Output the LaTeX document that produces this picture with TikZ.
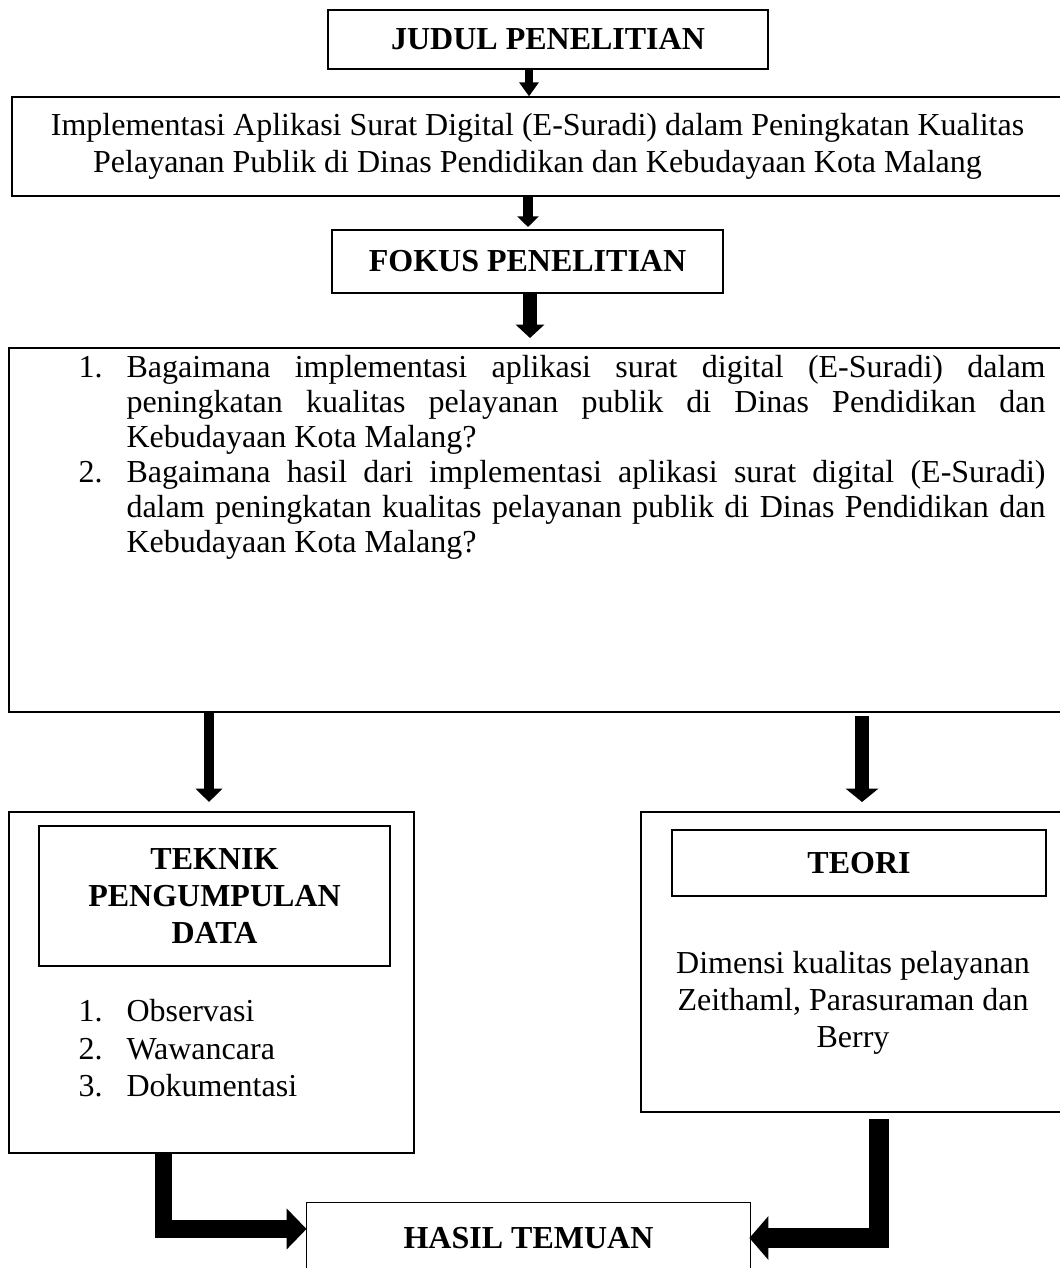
\documentclass[tikz,border=0pt]{standalone}
\usepackage{fontspec}
\setmainfont{Liberation Serif}
\usetikzlibrary{arrows.meta}
\def\px{0.375pt}
\newcommand{\nomor}[1]{\makebox[18pt][l]{#1}}
\newcommand{\baris}[1]{\makebox[344.6pt][s]{#1}}

\begin{document}
\begin{tikzpicture}[x=0.375pt, y=-0.375pt,
		huruf/.style={font=\fontsize{12}{14}\selectfont},
		kotaktebal/.style={draw, line width=1.1pt, align=center, inner sep=0pt, font=\fontsize{12}{14}\selectfont\bfseries},
		kotaktipis/.style={draw, line width=0.5pt, align=center, inner sep=0pt, huruf},
		panah/.style n args={3}{line width=#1, -{Triangle[length=#2, width=#3]}}]
		%%%%% START %%%%%
		\useasboundingbox (0,0) rectangle (1060,1268);
		
		\node[kotaktebal, minimum width=440*\px, minimum height=59*\px] (judul) at (548,39.5) {JUDUL PENELITIAN};
		\node[kotaktipis, minimum width=1051*\px, minimum height=99*\px] (judulisi) at (537.5,146.5) {Implementasi Aplikasi Surat Digital (E-Suradi) dalam Peningkatan Kualitas\\Pelayanan Publik di Dinas Pendidikan dan Kebudayaan Kota Malang};
		\node[kotaktebal, minimum width=391*\px, minimum height=63*\px] (fokus) at (527.5,261.5) {FOKUS PENELITIAN};
		
		\node[kotaktipis, minimum width=1054*\px, minimum height=364*\px] (fokusisi) at (536,530) {};
		\node[font=\fontsize{12}{13.1}\selectfont, anchor=north west, align=left, inner sep=0pt] (daftar) at (78,355) {%
			\nomor{1.}\baris{Bagaimana implementasi aplikasi surat digital (E-Suradi) dalam}\\
			\hspace*{18pt}\baris{peningkatan kualitas pelayanan publik di Dinas Pendidikan dan}\\
			\hspace*{18pt}Kebudayaan Kota Malang?\\
			\nomor{2.}\baris{Bagaimana hasil dari implementasi aplikasi surat digital (E-Suradi)}\\
			\hspace*{18pt}\baris{dalam peningkatan kualitas pelayanan publik di Dinas Pendidikan dan}\\
			\hspace*{18pt}Kebudayaan Kota Malang?};
		
		% kiri
		\node[kotaktipis, minimum width=405*\px, minimum height=341*\px] (kiri) at (211.5,982.5) {};
		\node[kotaktebal, minimum width=351*\px, minimum height=140*\px] (teknik) at (214.5,896) {TEKNIK\\PENGUMPULAN\\DATA};
		\node[huruf, anchor=north west, align=left, inner sep=0pt] (metode) at (78,999) {\nomor{1.}Observasi\\\nomor{2.}Wawancara\\\nomor{3.}Dokumentasi};
		
		% kanan
		\node[kotaktipis, minimum width=422*\px, minimum height=300*\px] (kanan) at (852,962) {};
		\node[kotaktebal, minimum width=374*\px, minimum height=66*\px] (teori) at (859,863) {TEORI};
		\node[huruf, align=center, inner sep=0pt] (dimensi) at (853,1003) {Dimensi kualitas pelayanan\\Zeithaml, Parasuraman dan\\Berry};
		
		\node[kotaktebal, draw=none, minimum width=441*\px, minimum height=68*\px] (hasil) at (528.5,1238) {HASIL TEMUAN};
		\draw[line width=0.5pt] (hasil.south west) -- (hasil.north west) -- (hasil.north east) -- (hasil.south east);
		
		% panah lurus
		\draw[panah={3pt}{5.25pt}{7.1pt}] (judul.south -| 529,0) -- (judulisi.north -| 529,0);
		\draw[panah={3.4pt}{4pt}{7.9pt}] (judulisi.south -| 528,0) -- (528,227);
		\draw[panah={5.25pt}{5pt}{10.5pt}] (fokus.south -| 530,0) -- (530,338);
		\draw[panah={4.1pt}{5pt}{9.75pt}] (fokusisi.south -| 209,0) -- (209,802);
		\coordinate (kananatas) at (862,716);
		\draw[panah={5.6pt}{5pt}{12pt}] (kananatas) -- (862,802);
		
		% panah bengkok
		\draw[panah={6.5pt}{7.5pt}{15pt}] (kiri.south -| 163.5,0) |- ([yshift=3.4pt]hasil.west);
		\coordinate (kananbawah) at (879,1119);
		\draw[panah={7.5pt}{7.1pt}{16pt}] (kananbawah) |- ([xshift=-0.4pt]hasil.east);
		
		%%%%% END %%%%%
	\end{tikzpicture}
\end{document}
